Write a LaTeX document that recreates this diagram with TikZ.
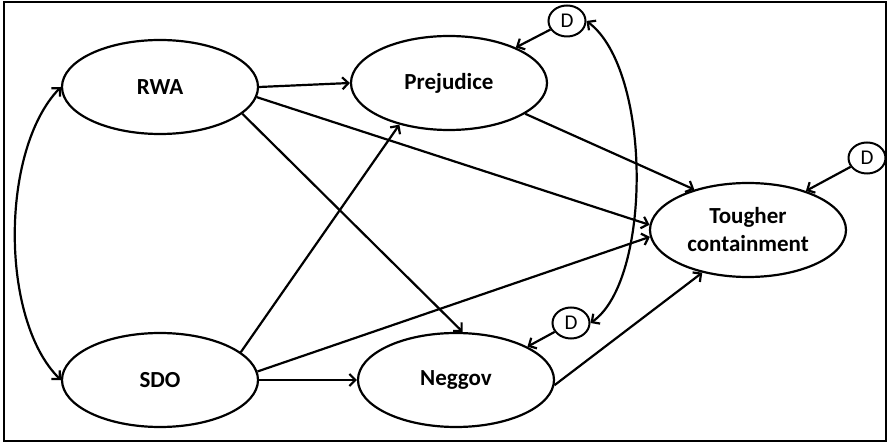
\documentclass[tikz,border=0pt]{standalone}
\usepackage{fontspec}
\setmainfont{Carlito}
\usetikzlibrary{shapes.geometric,arrows.meta}
\begin{document}
\begin{tikzpicture}[x=1pt,y=-1pt,
  latent/.style={ellipse,draw,line width=2.2pt,minimum width=196pt,minimum height=94pt,inner sep=0pt,font=\fontsize{23}{25}\selectfont\bfseries,align=center},
  dist/.style={ellipse,draw,line width=2pt,minimum width=37pt,minimum height=31pt,inner sep=0pt,font=\fontsize{21}{22}\selectfont},
  arr/.style={line width=2.2pt,-{Straight Barb[length=6pt,width=12pt]}},
  darr/.style={line width=2.2pt,{Straight Barb[length=6pt,width=12pt]}-{Straight Barb[length=6pt,width=12pt]}}]
\useasboundingbox (0,0) rectangle (889,443);
\draw[line width=2.2pt] (4,2) rectangle (886,441);
\node[latent] (RWA) at (160,87) {RWA};
\node[latent] (Prej) at (449,83) {Prejudice};
\node[latent] (SDO) at (160,380) {SDO};
\node[latent] (Neg) at (456,380) {Neggov};
\node[latent] (Tough) at (748,230) {Tougher\\[3pt]containment};
\node[dist] (D1) at (567,21) {D};
\node[dist] (D2) at (571,323) {D};
\node[dist] (D3) at (867,158) {D};
\draw[arr] (RWA.east) -- (Prej.west);
\draw[arr] (RWA.-6) -- (Tough.177);
\draw[arr] (RWA.-18) -- (Neg.82);
\draw[arr] (Prej.-22) -- (Tough.143);
\draw[arr] (SDO.19) -- (Prej.220);
\draw[arr] (SDO.5) -- (Tough.184);
\draw[arr] (SDO.east) -- (Neg.west);
\draw[arr] (Neg.-3) -- (Tough.223);
\draw[arr] (D1) -- (Prej.28);
\draw[arr] (D2) -- (Neg.25);
\draw[arr] (D3) -- (Tough.34);
\draw[darr] (RWA.west) .. controls (0,150) and (0,320) .. (SDO.west);
\draw[darr] (D1.east) .. controls (652,70) and (652,280) .. (D2.east);
\end{tikzpicture}
\end{document}
